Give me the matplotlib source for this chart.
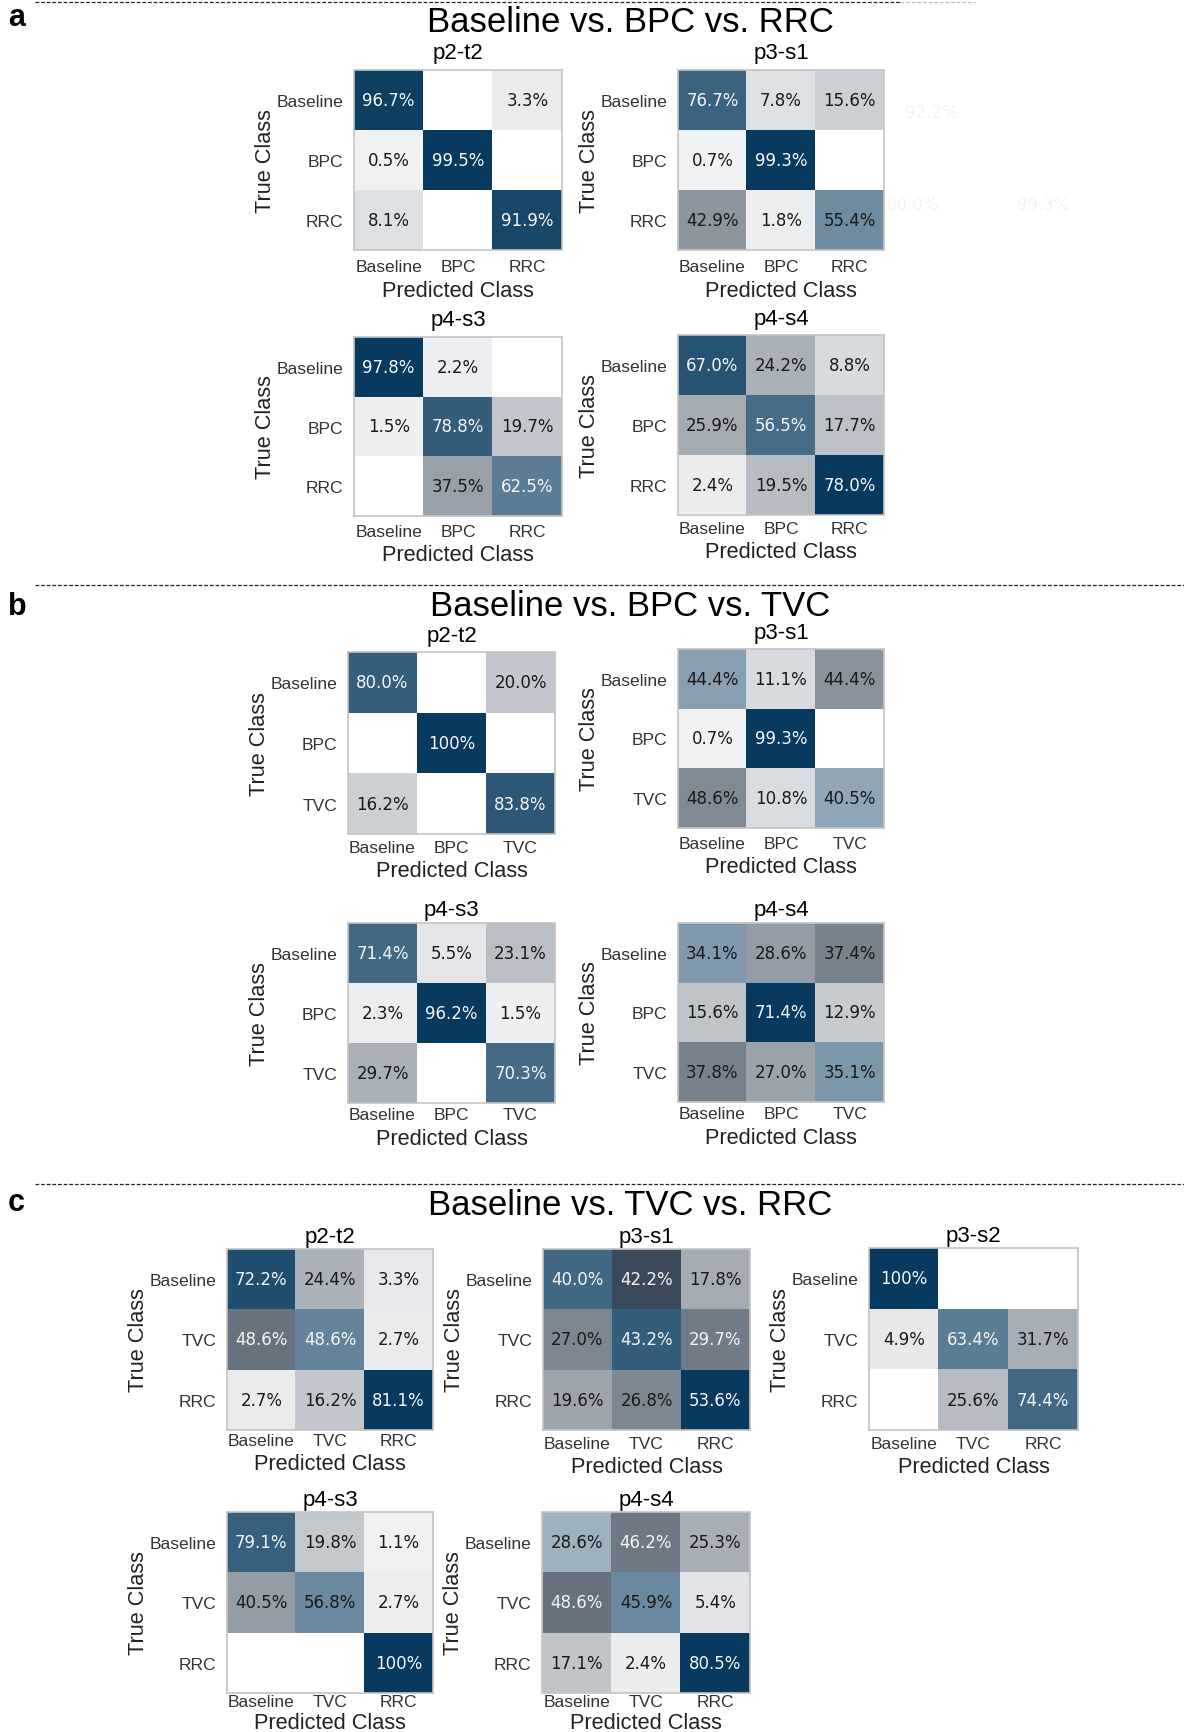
import numpy as np
import matplotlib
matplotlib.use("Agg")
import matplotlib.pyplot as plt
from matplotlib.colors import LinearSegmentedColormap, Normalize
from matplotlib.lines import Line2D

plt.rcParams['font.family'] = ['Liberation Sans', 'DejaVu Sans']

W, H = 1184, 1733

# clase pe fiecare panou
classes_a = ['Baseline', 'BPC', 'RRC']
classes_b = ['Baseline', 'BPC', 'TVC']
classes_c = ['Baseline', 'TVC', 'RRC']

# matrici de confuzie (procente, randul = clasa adevarata)
a_p2t2 = [[96.7, 0, 3.3], [0.5, 99.5, 0], [8.1, 0, 91.9]]
a_p3s1 = [[76.7, 7.8, 15.6], [0.7, 99.3, 0], [42.9, 1.8, 55.4]]
a_p4s3 = [[97.8, 2.2, 0], [1.5, 78.8, 19.7], [0, 37.5, 62.5]]
a_p4s4 = [[67.0, 24.2, 8.8], [25.9, 56.5, 17.7], [2.4, 19.5, 78.0]]

b_p2t2 = [[80.0, 0, 20.0], [0, 100, 0], [16.2, 0, 83.8]]
b_p3s1 = [[44.4, 11.1, 44.4], [0.7, 99.3, 0], [48.6, 10.8, 40.5]]
b_p4s3 = [[71.4, 5.5, 23.1], [2.3, 96.2, 1.5], [29.7, 0, 70.3]]
b_p4s4 = [[34.1, 28.6, 37.4], [15.6, 71.4, 12.9], [37.8, 27.0, 35.1]]

c_p2t2 = [[72.2, 24.4, 3.3], [48.6, 48.6, 2.7], [2.7, 16.2, 81.1]]
c_p3s1 = [[40.0, 42.2, 17.8], [27.0, 43.2, 29.7], [19.6, 26.8, 53.6]]
c_p3s2 = [[100, 0, 0], [4.9, 63.4, 31.7], [0, 25.6, 74.4]]
c_p4s3 = [[79.1, 19.8, 1.1], [40.5, 56.8, 2.7], [0, 0, 100]]
c_p4s4 = [[28.6, 46.2, 25.3], [48.6, 45.9, 5.4], [17.1, 2.4, 80.5]]

panel_titles = ['Baseline vs. BPC vs. RRC', 'Baseline vs. BPC vs. TVC', 'Baseline vs. TVC vs. RRC']

blue_cmap = LinearSegmentedColormap.from_list('diag', ['#f0f2f4', '#073a5e'])
grey_cmap = LinearSegmentedColormap.from_list('off', ['#f1f2f4', '#0b1e31'])

fig = plt.figure(figsize=(W / 100, H / 100), dpi=100)


def px_axes(x0, y0, x1, y1):
    return fig.add_axes([x0 / W, 1 - y1 / H, (x1 - x0) / W, (y1 - y0) / H])


def draw_cm(box, vals, classes, title, xpad=4, tpad=6, lpad=4):
    ax = px_axes(*box)
    m = np.array(vals, dtype=float)
    norm = Normalize(0, m.max())
    eye = np.eye(3, dtype=bool)
    # zerourile raman albe (nedesenate)
    ax.imshow(np.ma.masked_where(~eye | (m == 0), m), cmap=blue_cmap, norm=norm,
              aspect='auto', interpolation='nearest')
    ax.imshow(np.ma.masked_where(eye | (m == 0), m), cmap=grey_cmap, norm=norm,
              aspect='auto', interpolation='nearest')
    for i in range(3):
        for j in range(3):
            v = m[i, j]
            if v == 0:
                continue
            r, g, b = (blue_cmap if i == j else grey_cmap)(norm(v))[:3]
            lum = 0.299 * r + 0.587 * g + 0.114 * b
            col = '#f4f4f4' if lum < 0.5 else '#1a1a1a'
            txt = '100%' if v == 100 else f'{v:.1f}%'
            ax.text(j, i, txt, ha='center', va='center', fontsize=12,
                    color=col, family='DejaVu Sans')
    ax.set_xticks(range(3))
    ax.set_xticklabels(classes)
    ax.set_yticks(range(3))
    ax.set_yticklabels(classes)
    ax.tick_params(length=0, labelsize=12.6, labelcolor='#333333', pad=7.5)
    ax.tick_params(axis='x', pad=xpad)
    ax.set_xlabel('Predicted Class', fontsize=15.7, labelpad=lpad, color='#222222')
    ax.set_ylabel('True Class', fontsize=15.7, labelpad=0.5, color='#222222')
    ax.set_title(title, fontsize=16, pad=tpad)
    for s in ax.spines.values():
        s.set_color('#c4c4c4')
        s.set_linewidth(1.2)
    return ax


# panoul a
draw_cm((354, 71, 562, 251), a_p2t2, classes_a, 'p2-t2', xpad=6.5, tpad=9)
draw_cm((678, 71, 884, 251), a_p3s1, classes_a, 'p3-s1', xpad=6.5, tpad=9)
draw_cm((354, 338, 562, 517), a_p4s3, classes_a, 'p4-s3', xpad=5.5, tpad=9)
draw_cm((678, 336, 884, 516), a_p4s4, classes_a, 'p4-s4', xpad=4, tpad=8)

# panoul b
draw_cm((348, 653, 555, 835), b_p2t2, classes_b, 'p2-t2', xpad=4, tpad=8)
draw_cm((678, 650, 884, 829), b_p3s1, classes_b, 'p3-s1', xpad=5.5, tpad=8)
draw_cm((348, 924, 555, 1104), b_p4s3, classes_b, 'p4-s3', xpad=3, tpad=6)
draw_cm((678, 924, 884, 1103), b_p4s4, classes_b, 'p4-s4', xpad=3, tpad=6)

# panoul c
draw_cm((227, 1250, 433, 1431), c_p2t2, classes_c, 'p2-t2', xpad=2, tpad=5)
draw_cm((543, 1250, 750, 1431), c_p3s1, classes_c, 'p3-s1', xpad=4, tpad=5)
draw_cm((869, 1249, 1078, 1431), c_p3s2, classes_c, 'p3-s2', xpad=4, tpad=5)
draw_cm((227, 1513, 433, 1694), c_p4s3, classes_c, 'p4-s3', xpad=1, tpad=5, lpad=2)
draw_cm((542, 1513, 750, 1694), c_p4s4, classes_c, 'p4-s4', xpad=1, tpad=5, lpad=2)

# titluri, litere si linii punctate
for title, letter, ty, ly in zip(panel_titles, ['a', 'b', 'c'], [23, 607, 1206], [18, 607, 1203]):
    fig.text(630 / W, 1 - ty / H, title, ha='center', va='center', fontsize=25)
    fig.text(8 / W, 1 - ly / H, letter, ha='left', va='center', fontsize=22, fontweight='bold')

for y, x1 in [(3, 900), (586, 1184), (1185, 1184)]:
    fig.add_artist(Line2D([35 / W, x1 / W], [1 - y / H, 1 - y / H], color='#222222',
                          lw=0.9, ls=(0, (3, 1.5)), transform=fig.transFigure))
fig.add_artist(Line2D([900 / W, 975 / W], [1 - 3 / H, 1 - 3 / H], color='#bbbbbb',
                      lw=0.9, ls=(0, (3, 1.5)), transform=fig.transFigure))

# urme foarte slabe din imaginea originala
for x, y, t in [(931, 113, '92.2%'), (913, 205, '00.0%'), (1043, 205, '99.3%')]:
    fig.text(x / W, 1 - y / H, t, ha='center', va='center', fontsize=12,
             color='#f3f3f3', family='DejaVu Sans')

fig.savefig('out.png', dpi=100)
